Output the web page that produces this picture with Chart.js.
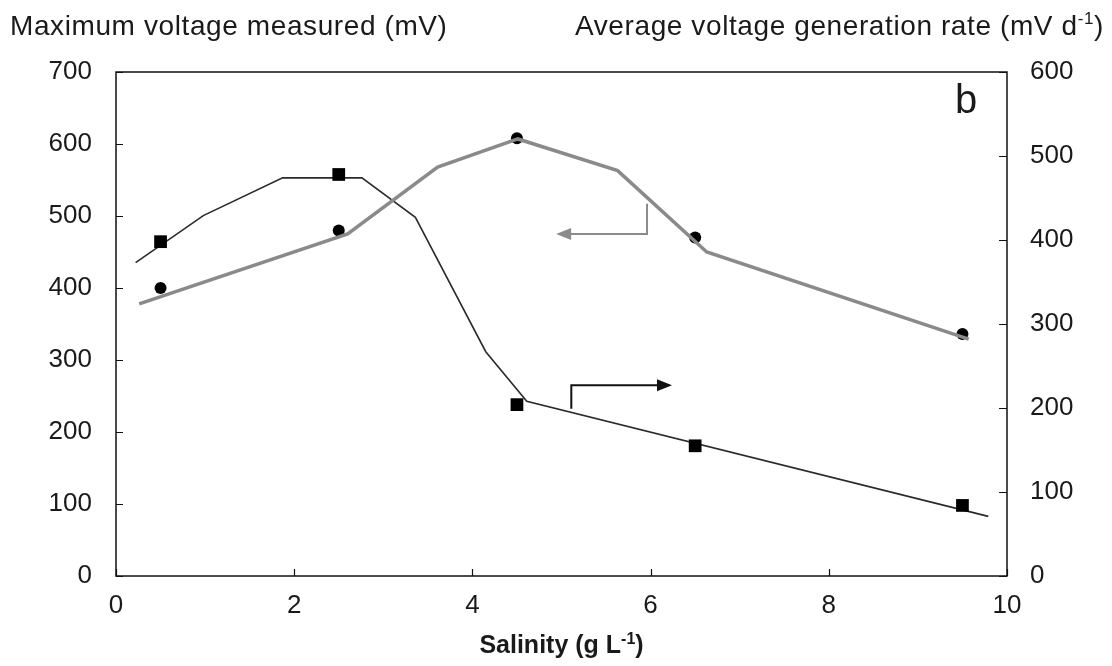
<!DOCTYPE html>
<html>
<head>
<meta charset="utf-8">
<title>Salinity</title>
<script src="https://cdn.jsdelivr.net/npm/chart.js@4.4.0/dist/chart.umd.min.js"></script>
<style>
    body { margin: 0; background: #fff; }
    #wrap { width: 1112px; height: 666px; }
</style>
</head>
<body>
<div id="wrap"><canvas id="myChart" width="1112" height="666"></canvas></div>
<script>
// ---------------------------- data
var salinity = [0.5, 2.5, 4.5, 6.5, 9.5];
var maxVoltage = [400, 480, 608, 470, 336];     // mV, left axis
var genRate = [398, 478, 204, 155, 84];         // mV/d, right axis
// trend lines drawn through the points
var voltTrendX = [0.26, 2.6, 3.61, 4.51, 5.63, 6.63, 9.57];
var voltTrendY = [378, 475, 568, 607, 563, 450, 329];
var rateTrendX = [0.22, 0.98, 1.87, 2.76, 3.36, 4.15, 4.61, 9.79];
var rateTrendY = [373, 429, 474, 474, 427, 267, 208, 71];
// arrows pointing to the axis each curve belongs to (data units)
var voltArrow = {x: 5.96, yTop: 517, yBend: 475, tipX: 4.94};
var rateArrow = {x: 5.11, yLow: 199, yBend: 227, tipX: 6.24};

var FONT = '"Liberation Sans", Arial, sans-serif';

function pts(xs, ys){
    var out = [];
    for(var i=0; i<xs.length; ++i){ out.push({x: xs[i], y: ys[i]}); }
    return out;
}

function arrowHead(ctx, x, y, dir, color){
    // dir = 1 points right, -1 points left
    ctx.fillStyle = color;
    ctx.beginPath();
    ctx.moveTo(x, y);
    ctx.lineTo(x - dir*15, y - 6);
    ctx.lineTo(x - dir*15, y + 6);
    ctx.closePath();
    ctx.fill();
}

// text with a -1 superscript, returns end x
function supText(ctx, parts, x, y, size, weight, measureOnly){
    var cx = x;
    for(var i=0; i<parts.length; ++i){
        var p = parts[i];
        var fs = p.sup ? Math.round(size*0.62) : size;
        ctx.font = weight + ' ' + fs + 'px ' + FONT;
        if(!measureOnly){ ctx.fillText(p.t, cx, p.sup ? y - size*0.38 : y); }
        cx += ctx.measureText(p.t).width;
    }
    return cx;
}

// ---------------------------- frame, inner ticks, arrows, labels
var decor = {
    id: 'decor',
    afterDatasetsDraw: function(chart){
        var ctx = chart.ctx, a = chart.chartArea;
        var sx = chart.scales.x, sy = chart.scales.y, sy1 = chart.scales.y1;
        ctx.save();
        // arrows
        ctx.lineWidth = 2;
        ctx.strokeStyle = '#8a8a8a';
        var gx = sx.getPixelForValue(voltArrow.x), gy = sy.getPixelForValue(voltArrow.yBend);
        var gtip = sx.getPixelForValue(voltArrow.tipX);
        ctx.beginPath();
        ctx.moveTo(gx, sy.getPixelForValue(voltArrow.yTop));
        ctx.lineTo(gx, gy);
        ctx.lineTo(gtip + 12, gy);
        ctx.stroke();
        arrowHead(ctx, gtip, gy, -1, '#8a8a8a');
        ctx.strokeStyle = '#111';
        var bx = sx.getPixelForValue(rateArrow.x), by = sy1.getPixelForValue(rateArrow.yBend);
        var btip = sx.getPixelForValue(rateArrow.tipX);
        ctx.beginPath();
        ctx.moveTo(bx, sy1.getPixelForValue(rateArrow.yLow));
        ctx.lineTo(bx, by);
        ctx.lineTo(btip - 12, by);
        ctx.stroke();
        arrowHead(ctx, btip, by, 1, '#111');
        ctx.restore();
    },
    afterDraw: function(chart){
        var ctx = chart.ctx, a = chart.chartArea;
        var sx = chart.scales.x, sy = chart.scales.y, sy1 = chart.scales.y1;
        ctx.save();
        ctx.strokeStyle = '#111';
        ctx.lineWidth = 1.5;
        ctx.strokeRect(a.left, a.top, a.right - a.left, a.bottom - a.top);
        ctx.lineWidth = 1.2;
        ctx.beginPath();
        sy.ticks.forEach(function(t){
            var p = Math.round(sy.getPixelForValue(t.value)) + 0.5;
            ctx.moveTo(a.left, p); ctx.lineTo(a.left + 7, p);
        });
        sy1.ticks.forEach(function(t){
            var p = Math.round(sy1.getPixelForValue(t.value)) + 0.5;
            ctx.moveTo(a.right, p); ctx.lineTo(a.right - 8, p);
        });
        sx.ticks.forEach(function(t){
            var p = Math.round(sx.getPixelForValue(t.value)) + 0.5;
            ctx.moveTo(p, a.bottom); ctx.lineTo(p, a.bottom - 7);
        });
        ctx.stroke();

        // axis titles
        ctx.fillStyle = '#1a1a1a';
        ctx.textBaseline = 'alphabetic';
        ctx.textAlign = 'left';
        ctx.letterSpacing = '0.6px';
        ctx.font = '28px ' + FONT;
        ctx.fillText('Maximum voltage measured (mV)', 10, 35);
        supText(ctx, [{t: 'Average voltage generation rate (mV d'}, {t: '-1', sup: true}, {t: ')'}],
                575, 35, 28, 'normal', false);
        ctx.letterSpacing = '0px';
        var xt = [{t: 'Salinity (g L'}, {t: '-1', sup: true}, {t: ')'}];
        var w = supText(ctx, xt, 0, 0, 25, 'bold', true);
        supText(ctx, xt, (a.left + a.right)/2 - w/2, 653, 25, 'bold', false);
        // panel letter
        ctx.font = '40px ' + FONT;
        ctx.fillText('b', 955, 113);
        ctx.restore();
    }
};

var tickFont = {family: FONT, size: 26};
var ctx = document.getElementById("myChart");
var myChart = new Chart(ctx, {
    type: 'scatter',
    data: {
        datasets: [
            {label: 'rate', data: pts(salinity, genRate), yAxisID: 'y1', order: 0,
             pointStyle: 'rect', pointRadius: 9, backgroundColor: '#000', borderColor: '#000', borderWidth: 0},
            {label: 'voltage trend', data: pts(voltTrendX, voltTrendY), yAxisID: 'y', order: 1,
             showLine: true, pointRadius: 0, borderColor: '#8a8a8a', borderWidth: 3.5},
            {label: 'voltage', data: pts(salinity, maxVoltage), yAxisID: 'y', order: 2,
             pointStyle: 'circle', pointRadius: 6, backgroundColor: '#000', borderColor: '#000', borderWidth: 0},
            {label: 'rate trend', data: pts(rateTrendX, rateTrendY), yAxisID: 'y1', order: 3,
             showLine: true, pointRadius: 0, borderColor: '#2a2a2a', borderWidth: 1.6}
        ]
    },
    options: {
        responsive: false,
        animation: false,
        events: [],
        layout: {padding: {top: 72, left: 0, right: 0, bottom: 0}},
        plugins: {legend: {display: false}, tooltip: {enabled: false}},
        scales: {
            x: {
                type: 'linear', min: 0, max: 10,
                grid: {display: false, drawTicks: false}, border: {display: false},
                ticks: {stepSize: 2, padding: 14, color: '#1a1a1a', font: tickFont, maxRotation: 0},
                afterFit: function(s){ s.height = 90; }
            },
            y: {
                position: 'left', min: 0, max: 700,
                grid: {display: false, drawTicks: false}, border: {display: false},
                ticks: {stepSize: 100, padding: 24, color: '#1a1a1a', font: tickFont},
                afterFit: function(s){ s.width = 116; }
            },
            y1: {
                position: 'right', min: 0, max: 600,
                grid: {display: false, drawTicks: false}, border: {display: false},
                ticks: {stepSize: 100, padding: 23, color: '#1a1a1a', font: tickFont},
                afterFit: function(s){ s.width = 105; }
            }
        }
    },
    plugins: [decor]
});
</script>
</body>
</html>
